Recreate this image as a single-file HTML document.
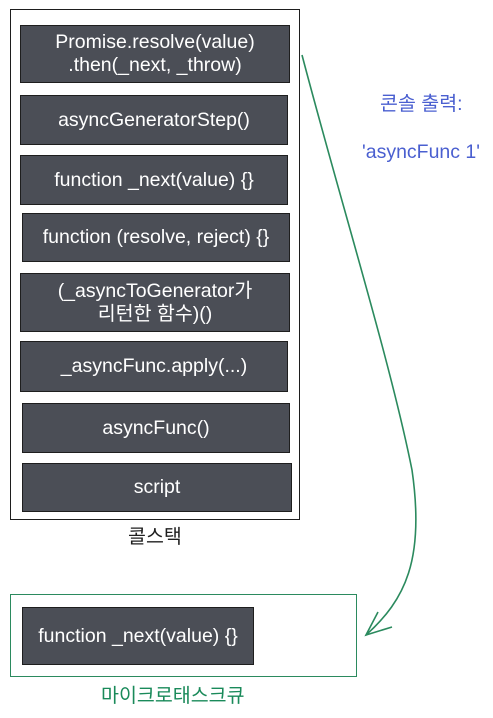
<!DOCTYPE html>
<html><head><meta charset="utf-8"><style>
body{margin:0;width:493px;height:718px;background:#fff;position:relative;overflow:hidden;font-family:"Liberation Sans","Noto Sans CJK KR",sans-serif}
.b{position:absolute;background:#4b4e56;border:1.5px solid #1e1e1e;color:#fff;font-size:19.5px;display:flex;align-items:center;justify-content:center;text-align:center;line-height:23px;box-sizing:border-box;white-space:nowrap}
.t{position:absolute;white-space:nowrap;font-size:19.5px;line-height:23px}
</style></head><body>
<div style="position:absolute;left:10px;top:9px;width:290px;height:511px;border:1.3px solid #1e1e1e;box-sizing:border-box"></div>
<div class="b" style="left:20px;top:25px;width:270px;height:58px">Promise.resolve(value)<br>.then(_next, _throw)</div>
<div class="b" style="left:20px;top:95px;width:268px;height:50px">asyncGeneratorStep()</div>
<div class="b" style="left:20px;top:155px;width:268px;height:50px">function _next(value) {}</div>
<div class="b" style="left:22px;top:213px;width:268px;height:49px">function (resolve, reject) {}</div>
<div class="b" style="left:20px;top:273px;width:270px;height:59px">(_asyncToGenerator가<br>리턴한 함수)()</div>
<div class="b" style="left:20px;top:341px;width:268px;height:51px">_asyncFunc.apply(...)</div>
<div class="b" style="left:22px;top:403px;width:268px;height:50px">asyncFunc()</div>
<div class="b" style="left:22px;top:463px;width:270px;height:49px">script</div>
<div class="t" style="left:128px;top:526px;color:#1e1e1e">콜스택</div>
<div style="position:absolute;left:10px;top:594px;width:347px;height:83px;border:1.5px solid #2b8a5e;box-sizing:border-box"></div>
<div class="b" style="left:22px;top:607px;width:232px;height:58px">function _next(value) {}</div>
<div class="t" style="left:101px;top:685px;color:#1a8a5a">마이크로태스크큐</div>
<div class="t" style="left:380px;top:93px;color:#4a5fd0">콘솔 출력:</div>
<div class="t" style="left:362px;top:141px;color:#4a5fd0">'asyncFunc 1'</div>
<svg style="position:absolute;left:0;top:0" width="493" height="718">
<path d="M302 55 C340 200,390 360,412 470 C425 560,405 600,366 635" fill="none" stroke="#2b8a5e" stroke-width="1.6"/>
<path d="M378 612 L366 635 L392 627" fill="none" stroke="#2b8a5e" stroke-width="1.6"/>
</svg>
</body></html>
